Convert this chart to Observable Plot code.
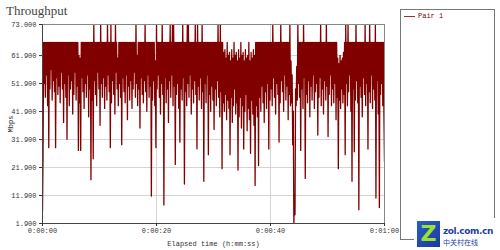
<!DOCTYPE html>
<html><head><meta charset="utf-8">
<script src="https://cdn.jsdelivr.net/npm/d3@7"></script>
<script src="https://cdn.jsdelivr.net/npm/@observablehq/plot@0.6"></script>
<style>
body{margin:0;background:#fff;}
#wrap{position:relative;width:500px;height:250px;overflow:hidden;font-family:"Liberation Mono",monospace;}
#title{position:absolute;left:6px;top:3px;font:13px "Liberation Serif",serif;color:#444;}
#legend{position:absolute;left:400px;top:9px;width:95px;height:231px;border:1px solid #777;box-sizing:border-box;}
#legend .sw{position:absolute;left:3px;top:6px;width:11px;height:0;border-top:1px solid #a03030;}
#legend .lb{position:absolute;left:17px;top:2px;font:7px "Liberation Mono",monospace;color:#800000;}
#logo{position:absolute;left:414px;top:218px;width:86px;height:32px;background:#fff;}
#logo .sq{position:absolute;left:3px;top:3px;width:23px;height:26px;background:linear-gradient(135deg,#2a5bd0,#1c3a9a);color:#9be22d;font:bold 22px "DejaVu Sans",sans-serif;text-align:center;line-height:26px;}
#logo .t1{position:absolute;left:29px;top:8px;font:bold 9px "DejaVu Sans",sans-serif;color:#1d3fa8;letter-spacing:-0.4px;}
#logo .t2{position:absolute;left:29px;top:19px;font:7px "Noto Sans CJK SC",sans-serif;color:#1d3fa8;}
</style></head>
<body><div id="wrap">
<div id="chart"></div>
<div id="title">Throughput</div>
<div id="legend"><div class="sw"></div><div class="lb">Pair 1</div></div>
<div id="logo"><div class="sq">Z</div><div class="t1">zol.com.cn</div><div class="t2">中关村在线</div></div>
</div>
<script>
// Throughput samples (Mbps), one every 0.1 s from 0:00:00 to 0:01:00
const throughput = [
 6.5,27,66.6,52,66.6,47,66.6,55,66.6,44,66.6,29,66.6,50,66.6,57,66.6,46,66.6,53,
 66.6,49,66.6,29,66.6,54,66.6,48,66.6,51,66.6,45,66.6,56,66.6,50,66.6,38,66.6,52,
 66.6,47,66.6,32,66.6,55,66.6,44,66.6,50,66.6,53,66.6,41,66.6,48,66.6,56,66.6,46,
 66.6,51,66.6,28,62,45,61,28,66.6,54,66.6,49,66.6,43,66.6,52,66.6,47,66.6,55,
 66.6,40,66.6,50,66.6,17.5,66.6,46,66.6,25,73,53,66.6,48,66.6,44,66.6,56,66.6,50,
 66.6,37,73,52,66.6,47,66.6,54,66.6,43,66.6,51,66.6,46,73,55,66.6,49,66.6,29,
 73,45,66.6,53,66.6,48,66.6,41,73,56,66.6,50,61,44,66.6,52,66.6,47,66.6,30,
 66.6,54,66.6,49,66.6,45,66.6,55,66.6,39,66.6,51,66.6,46,66.6,53,66.6,43,66.6,50,
 66.6,56,66.6,47,73,52,62,44,66.6,50,66.6,36,66.6,54,66.6,48,66.6,45,66.6,53,
 73,49,66.6,42,66.6,55,66.6,47,66.6,51,66.6,11.7,66.6,46,66.6,53,66.6,44,60,29,
 73,50,66.6,55,66.6,47,66.6,41,66.6,52,73,48,66.6,8.5,66.6,54,66.6,45,66.6,50,
 66.6,38,66.6,53,73,47,66.6,55,73,44,73,51,66.6,23,66.6,48,66.6,52,66.6,43,
 66.6,31,66.6,50,66.6,46,73,54,66.6,16,66.6,49,66.6,44,73,52,73,47,66.6,55,
 66.6,41,66.6,50,66.6,45,66.6,53,73,48,66.6,28.6,73,51,66.6,46,66.6,54,66.6,43,
 73,49,66.6,17,66.6,52,66.6,45,66.6,55,66.6,26.5,66.6,48,66.6,42,66.6,51,66.6,46,
 66.6,35.5,66.6,50,66.6,44,66.6,53,73,47,66.6,40,73,49,66.6,21.5,66.6,45,63,42,
 64,48,61,39,66.6,46,62,43,63,26.5,60,47,64,38,61,44,66.6,50,62,41,
 63,45,60,21,64,40,61,47,66.6,36,62,44,63,28.5,60,42,64,48,61,35,
 62,43,66.6,39,60,27,63,46,61,41,64,37,62,15.5,66.6,44,66.6,40,66.6,22.6,
 66.6,47,66.6,42,66.6,51,66.6,45,66.6,38,66.6,49,66.6,43,66.6,52,66.6,28.5,66.6,46,
 66.6,50,66.6,44,73,54,66.6,47,66.6,41,66.6,52,66.6,48,66.6,31,66.6,45,73,53,
 66.6,49,66.6,42,66.6,55,66.6,46,66.6,51,66.6,39,66.6,48,73,44,60,45,55,30,
 42,1.9,12,5,50,44,58,46,73,52,66.6,47,66.6,28,66.6,50,66.6,43,73,54,
 66.6,18,66.6,48,66.6,45,66.6,53,66.6,40,66.6,51,66.6,46,66.6,55,66.6,43,66.6,49,
 66.6,52,66.6,33.5,66.6,47,66.6,54,73,44,66.6,50,66.6,41,66.6,53,66.6,46,73,51,
 66.6,33,66.6,48,66.6,55,66.6,44,66.6,50,66.6,45,66.6,52,66.6,39,66.6,47,61,21.5,
 59,46,62,43,60,50,61,45,63,48,66.6,26.5,73,52,66.6,44,73,49,66.6,55,
 66.6,42,66.6,17,66.6,50,66.6,27.5,66.6,46,73,53,66.6,45,66.6,6.8,66.6,51,66.6,47,
 66.6,40,66.6,54,66.6,48,73,44,66.6,52,66.6,28.5,66.6,49,73,45,66.6,55,66.6,43,
 66.6,50,66.6,46,73,11,66.6,53,66.6,41,66.6,7.6,66.6,48,66.6,52,66.6,44,66.6,40,
 24
];
const sampleStep = 0.1; // seconds
const yTicks = [1.9, 11.9, 21.9, 31.9, 41.9, 51.9, 61.9, 73.0];
const xTicks = [0, 20, 40, 60];
const xTickLabels = ["0:00:00", "0:00:20", "0:00:40", "0:01:00"];

const data = throughput.map((v, i) => ({t: i * sampleStep, v}));

const chart = Plot.plot({
  width: 500, height: 250,
  marginLeft: 42, marginRight: 116, marginTop: 24, marginBottom: 27,
  style: {fontFamily: "Liberation Mono, monospace", fontSize: "7px", color: "#333", background: "transparent"},
  x: {domain: [0, 60]},
  y: {domain: [1.9, 73]},
  marks: [
    Plot.gridY(yTicks, {stroke: "#d4d4d4", strokeOpacity: 1}),
    Plot.gridX(xTicks, {stroke: "#d4d4d4", strokeOpacity: 1}),
    Plot.line(data, {x: "t", y: "v", stroke: "#800000", strokeWidth: 1.3, clip: true}),
    Plot.frame({stroke: "#888"}),
    Plot.ruleX([0], {stroke: "#444"}),
    Plot.ruleY([1.9], {stroke: "#444"}),
    Plot.axisY(yTicks, {tickSize: 3, tickPadding: 3, tickFormat: d3.format(".3f"),
      label: "Mbps", labelAnchor: "center", labelArrow: "none", labelOffset: 34}),
    Plot.axisX(xTicks, {tickSize: 3, tickPadding: 2, tickFormat: (d, i) => xTickLabels[i],
      label: "Elapsed time (h:mm:ss)", labelAnchor: "center", labelArrow: "none", labelOffset: 22})
  ]
});
document.getElementById("chart").appendChild(chart);
</script>
</body></html>
